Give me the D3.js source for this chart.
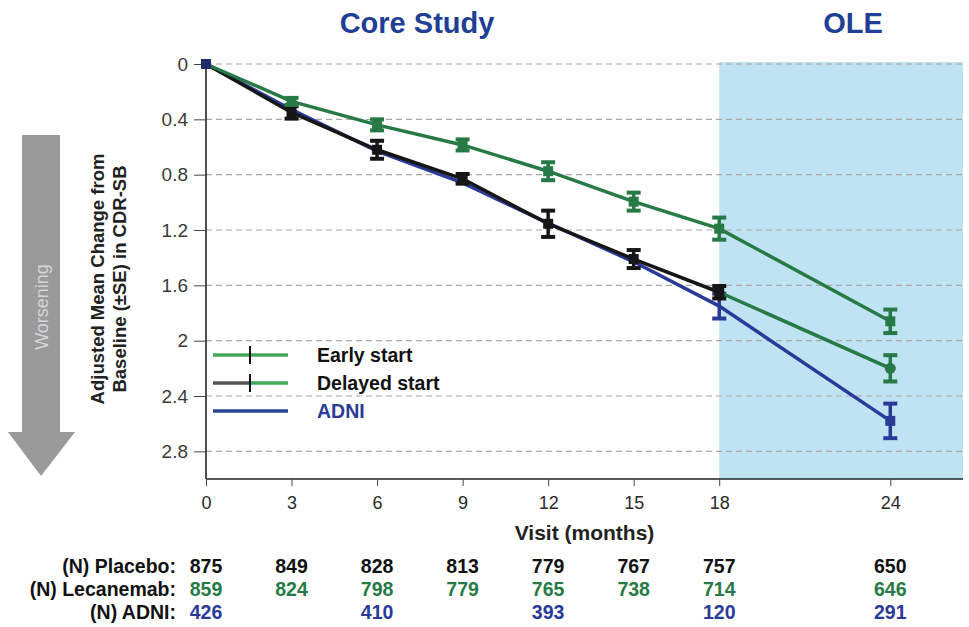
<!DOCTYPE html>
<html>
<head>
<meta charset="utf-8">
<script src="https://cdn.jsdelivr.net/npm/d3@7"></script>
<style>
  body { margin: 0; background: #fff; }
  svg { font-family: "Liberation Sans", Arial, sans-serif; }
</style>
</head>
<body>
<svg id="chart" width="969" height="627"></svg>
<script>
// visits (months)
const visits = [0, 3, 6, 9, 12, 15, 18, 24];
const yTicks = [0, 0.4, 0.8, 1.2, 1.6, 2, 2.4, 2.8];
const yTickLabels = ["0", "0.4", "0.8", "1.2", "1.6", "2", "2.4", "2.8"];

// adjusted mean change and SE
const earlyMean = [0, 0.27, 0.44, 0.585, 0.775, 0.995, 1.19, 1.86];
const earlySE = [0, 0.025, 0.04, 0.04, 0.065, 0.065, 0.08, 0.085];
const delayedMean = [0, 0.35, 0.62, 0.83, 1.155, 1.41, 1.65, 2.2];
const delayedSE = [0, 0.045, 0.065, 0.035, 0.095, 0.065, 0.045, 0.095];
const adniMean = [0, 0.33, 0.63, 0.86, 1.15, 1.43, 1.75, 2.58];
const adniSE = [0, 0, 0, 0, 0, 0, 0.09, 0.125];

// N at risk
const nPlacebo = [875, 849, 828, 813, 779, 767, 757, 650];
const nLecanemab = [859, 824, 798, 779, 765, 738, 714, 646];
const nAdni = [426, null, 410, null, 393, null, 120, 291];

const GREEN = "#277a45", BLACK = "#161616", BLUE = "#2a3a98", TITLE = "#1f3f96";
const XMAX = 26.55;

const svg = d3.select("#chart");
const x = d3.scaleLinear().domain([0, XMAX]).range([206, 963]);
const y = d3.scaleLinear().domain([0, 3]).range([64, 479]);

// OLE shading
svg.append("rect").attr("x", x(18)).attr("y", y(0) - 2)
  .attr("width", x(XMAX) - x(18)).attr("height", y(3) - y(0) + 2)
  .attr("fill", "#bfe3f3");

// grid
svg.append("g").selectAll("line").data(yTicks).join("line")
  .attr("x1", x(0)).attr("x2", x(XMAX))
  .attr("y1", d => y(d)).attr("y2", d => y(d))
  .attr("stroke", "#a8a8a8").attr("stroke-width", 1.2).attr("stroke-dasharray", "6,4");

// axes
const yAxis = d3.axisLeft(y).tickValues(yTicks).tickSize(12).tickPadding(6)
  .tickFormat((d, i) => yTickLabels[i]);
const gy = svg.append("g").attr("transform", `translate(${x(0)},0)`).call(yAxis);
gy.select(".domain").attr("stroke", "#222").attr("stroke-width", 1.6).attr("d", `M0,${y(0)}V${y(3)}`);
gy.selectAll(".tick line").attr("stroke", "#444");
gy.selectAll(".tick text").attr("font-size", 19).attr("fill", "#3a3a3a").attr("font-family", "Liberation Sans, Arial");

const xAxis = d3.axisBottom(x).tickValues(visits).tickSize(7).tickPadding(10).tickFormat(d3.format("d"));
const gx = svg.append("g").attr("transform", `translate(0,${y(3)})`).call(xAxis);
gx.select(".domain").attr("stroke", "#222").attr("stroke-width", 1.6).attr("d", `M${x(0)},0H${x(XMAX)}`);
gx.selectAll(".tick line").attr("stroke", "#444");
gx.selectAll(".tick text").attr("font-size", 18).attr("fill", "#2a2a2a").attr("font-family", "Liberation Sans, Arial");

// titles
svg.append("text").attr("x", 417).attr("y", 33).attr("text-anchor", "middle")
  .attr("font-size", 29).attr("font-weight", "bold").attr("fill", TITLE).text("Core Study");
svg.append("text").attr("x", 853).attr("y", 33).attr("text-anchor", "middle")
  .attr("font-size", 29).attr("font-weight", "bold").attr("fill", TITLE).text("OLE");

svg.append("text").attr("x", (x(0) + x(XMAX)) / 2).attr("y", 540).attr("text-anchor", "middle")
  .attr("font-size", 21).attr("font-weight", "bold").attr("fill", "#222").text("Visit (months)");

// y label
const yl = svg.append("text").attr("transform", "translate(104,279) rotate(-90)")
  .attr("text-anchor", "middle").attr("font-size", 18.5).attr("font-weight", "bold").attr("fill", "#222");
yl.append("tspan").attr("x", 0).attr("dy", 0).text("Adjusted Mean Change from");
yl.append("tspan").attr("x", 0).attr("dy", 22).text("Baseline (\u00b1SE) in CDR-SB");

// worsening arrow
svg.append("path")
  .attr("d", "M22,135H60V432H75L41,476L8,432H22Z")
  .attr("fill", "#9a9a9a");
svg.append("text").attr("transform", "translate(48,307) rotate(-90)")
  .attr("text-anchor", "middle").attr("font-size", 18).attr("fill", "#d6d6d6").text("Worsening");

// series
const line = d3.line().x(d => x(d[0])).y(d => y(d[1]));
function pts(mean) { return visits.map((v, i) => [v, mean[i]]); }

function drawErr(g, mean, se, color, idxs) {
  idxs.forEach(i => {
    if (!se[i]) return;
    const cx = x(visits[i]), y0 = y(mean[i] - se[i]), y1 = y(mean[i] + se[i]);
    g.append("line").attr("x1", cx).attr("x2", cx).attr("y1", y0).attr("y2", y1)
      .attr("stroke", color).attr("stroke-width", 3.5);
    [y0, y1].forEach(yy => g.append("line").attr("x1", cx - 7).attr("x2", cx + 7)
      .attr("y1", yy).attr("y2", yy).attr("stroke", color).attr("stroke-width", 4));
  });
}
function drawMarks(g, mean, color, idxs) {
  g.selectAll(null).data(idxs).join("rect")
    .attr("x", i => x(visits[i]) - 5).attr("y", i => y(mean[i]) - 5)
    .attr("width", 10).attr("height", 10).attr("fill", color);
}

const gAdni = svg.append("g");
gAdni.append("path").datum(pts(adniMean)).attr("d", line)
  .attr("fill", "none").attr("stroke", BLUE).attr("stroke-width", 3.5);
drawErr(gAdni, adniMean, adniSE, BLUE, d3.range(8));
drawMarks(gAdni, adniMean, BLUE, [0, 7]);

const gDel = svg.append("g");
gDel.append("path").datum(pts(delayedMean).slice(0, 7)).attr("d", line)
  .attr("fill", "none").attr("stroke", BLACK).attr("stroke-width", 3.5);
gDel.append("path").datum(pts(delayedMean).slice(6)).attr("d", line)
  .attr("fill", "none").attr("stroke", GREEN).attr("stroke-width", 3.5);
drawErr(gDel, delayedMean, delayedSE, BLACK, d3.range(7));
drawErr(gDel, delayedMean, delayedSE, GREEN, [7]);
drawMarks(gDel, delayedMean, BLACK, d3.range(7));
gDel.append("circle").attr("cx", x(24)).attr("cy", y(delayedMean[7])).attr("r", 5.5).attr("fill", GREEN);

const gEarly = svg.append("g");
gEarly.append("path").datum(pts(earlyMean)).attr("d", line)
  .attr("fill", "none").attr("stroke", GREEN).attr("stroke-width", 3.5);
drawErr(gEarly, earlyMean, earlySE, GREEN, d3.range(1, 8));
drawMarks(gEarly, earlyMean, GREEN, d3.range(1, 8));
drawMarks(gEarly, adniMean, "#1e2b6e", [0]);

// legend
const legend = [
  { label: "Early start", left: "#43a85a", right: "#43a85a", tick: true, text: "#111" },
  { label: "Delayed start", left: "#555", right: "#43a85a", tick: true, text: "#111" },
  { label: "ADNI", left: "#2b4496", right: "#2b4496", tick: false, text: BLUE }
];
const lg = svg.append("g").attr("transform", "translate(213,355)");
legend.forEach((d, i) => {
  const yy = i * 28;
  lg.append("line").attr("x1", 0).attr("x2", 37).attr("y1", yy).attr("y2", yy)
    .attr("stroke", d.left).attr("stroke-width", 3.5);
  lg.append("line").attr("x1", 37).attr("x2", 75).attr("y1", yy).attr("y2", yy)
    .attr("stroke", d.right).attr("stroke-width", 3.5);
  if (d.tick) lg.append("line").attr("x1", 37).attr("x2", 37).attr("y1", yy - 9).attr("y2", yy + 9)
    .attr("stroke", "#111").attr("stroke-width", 2);
  lg.append("text").attr("x", 104).attr("y", yy + 7).attr("font-size", 19.5).attr("font-weight", "bold")
    .attr("fill", d.text).text(d.label);
});

// N table
const rows = [
  { label: "(N) Placebo:", vals: nPlacebo, color: "#111" },
  { label: "(N) Lecanemab:", vals: nLecanemab, color: GREEN },
  { label: "(N) ADNI:", vals: nAdni, color: BLUE }
];
rows.forEach((r, i) => {
  const ty = 573 + i * 23;
  svg.append("text").attr("x", 176).attr("y", ty).attr("text-anchor", "end")
    .attr("font-size", 19.5).attr("font-weight", "bold").attr("fill", "#111").text(r.label);
  svg.append("g").selectAll("text").data(visits.map((v, j) => [v, r.vals[j]]).filter(d => d[1] != null))
    .join("text").attr("x", d => x(d[0])).attr("y", ty).attr("text-anchor", "middle")
    .attr("font-size", 19.5).attr("font-weight", "bold").attr("fill", r.color).text(d => d[1]);
});
</script>
</body>
</html>
